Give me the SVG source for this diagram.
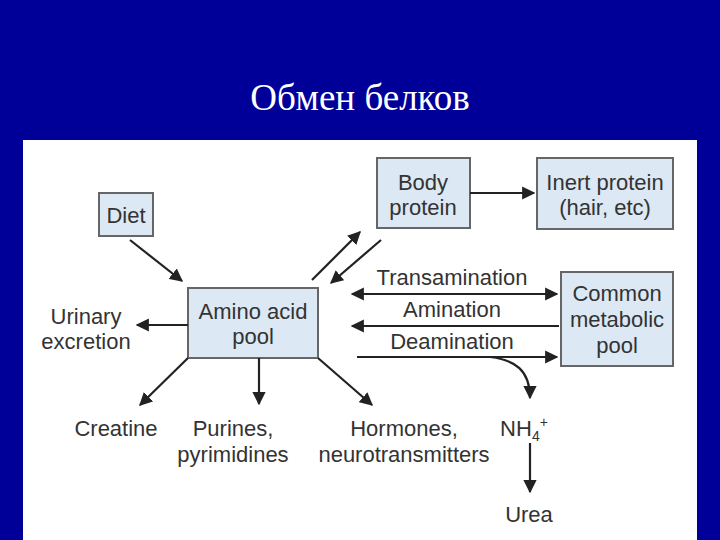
<svg xmlns="http://www.w3.org/2000/svg" width="720" height="540" viewBox="0 0 720 540">
<defs>
<marker id="ah" viewBox="0 0 10 10" refX="9" refY="5" markerWidth="6" markerHeight="6" orient="auto-start-reverse"><path d="M0,0 L10,5 L0,10 z" fill="#222"/></marker>
<style>
.box{fill:#dce8f4;stroke:#666;stroke-width:2}
.t{font-family:"Liberation Sans",Arial,sans-serif;font-size:22px;fill:#333;text-anchor:middle}
.c line,.c path{stroke:#222;stroke-width:2.2;fill:none}
</style>
</defs>
<rect width="720" height="540" fill="#000099"/>
<text x="360" y="110" font-family="Liberation Serif,serif" font-size="37" fill="#fff" text-anchor="middle">Обмен белков</text>
<rect x="23" y="140" width="674" height="400" fill="#fff"/>
<g id="diet"><rect class="box" x="99" y="193" width="54" height="43"/><text class="t" x="126" y="223">Diet</text></g>
<g id="body"><rect class="box" x="377" y="158" width="93" height="70"/><text class="t" x="423" y="190">Body</text><text class="t" x="423" y="215">protein</text></g>
<g id="inert"><rect class="box" x="537" y="158" width="136" height="71"/><text class="t" x="605" y="190">Inert protein</text><text class="t" x="605" y="215">(hair, etc)</text></g>
<g id="pool"><rect class="box" x="188" y="288" width="130" height="70"/><text class="t" x="253" y="319">Amino acid</text><text class="t" x="253" y="344">pool</text></g>
<g id="common"><rect class="box" x="561" y="272" width="112" height="94"/><text class="t" x="617" y="301">Common</text><text class="t" x="617" y="327">metabolic</text><text class="t" x="617" y="353">pool</text></g>
<g id="urinary"><text class="t" x="86" y="324">Urinary</text><text class="t" x="86" y="349">excretion</text></g>
<g id="creatine"><text class="t" x="116" y="436">Creatine</text></g>
<g id="purines"><text class="t" x="233" y="436">Purines,</text><text class="t" x="233" y="462">pyrimidines</text></g>
<g id="hormones"><text class="t" x="404" y="436">Hormones,</text><text class="t" x="404" y="462">neurotransmitters</text></g>
<g id="nh4"><text class="t" x="524" y="436">NH<tspan font-size="14" dy="5">4</tspan><tspan font-size="14" dy="-14">+</tspan></text></g>
<g id="urea"><text class="t" x="529" y="522">Urea</text></g>
<g id="labels"><text class="t" x="452" y="285">Transamination</text><text class="t" x="452" y="317">Amination</text><text class="t" x="452" y="349">Deamination</text></g>
<g class="c" id="connectors">
<line x1="130" y1="240" x2="182" y2="281" marker-end="url(#ah)"/>
<line x1="312" y1="280" x2="360" y2="232" marker-end="url(#ah)"/>
<line x1="381" y1="240" x2="331" y2="283" marker-end="url(#ah)"/>
<line x1="470" y1="193" x2="534" y2="193" marker-end="url(#ah)"/>
<line x1="188" y1="325" x2="137" y2="325" marker-end="url(#ah)"/>
<line x1="352" y1="294" x2="557" y2="294" marker-start="url(#ah)" marker-end="url(#ah)"/>
<line x1="559" y1="326" x2="352" y2="326" marker-end="url(#ah)"/>
<line x1="357" y1="357" x2="557" y2="357" marker-end="url(#ah)"/>
<path d="M490,357 C515,360 530,370 530,398" marker-end="url(#ah)"/>
<line x1="188" y1="358" x2="140" y2="405" marker-end="url(#ah)"/>
<line x1="259" y1="358" x2="259" y2="404" marker-end="url(#ah)"/>
<line x1="318" y1="358" x2="372" y2="405" marker-end="url(#ah)"/>
<line x1="530" y1="443" x2="530" y2="492" marker-end="url(#ah)"/>
</g>
</svg>
